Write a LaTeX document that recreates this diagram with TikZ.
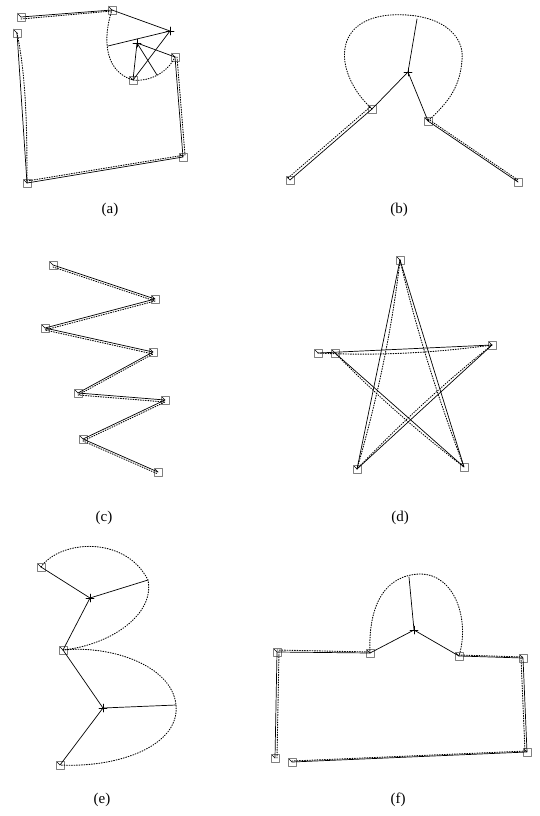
\documentclass[tikz,border=0pt]{standalone}
\usepackage{fontspec}
\setmainfont{Liberation Serif}
\usetikzlibrary{shapes.misc}
\begin{document}
\begin{tikzpicture}[x=1pt, y=-1pt, line join=round, line cap=round, line width=0.5,
    vtx/.style={draw=gray, rectangle, inner sep=0, minimum size=8pt, line width=0.8,
      path picture={\draw[black, line width=0.5] (path picture bounding box.north west) -- (path picture bounding box.center);}},
    ctr/.style={cross out, draw, rotate=45, inner sep=0, minimum size=5pt, line width=0.6},
    ink/.style={line width=0.7},
    trace/.style={dash pattern=on 0.9pt off 1.6pt, line width=0.9},
    lbl/.style={font=\fontsize{15}{17}\selectfont}]
  \useasboundingbox (0,0) rectangle (539,816);
  % (a)
  \node[vtx] (a1) at (21,17) {};
  \node[vtx] (a2) at (17,33) {};
  \node[vtx] (a3) at (112,10) {};
  \node[ctr] (a4) at (170,31) {};
  \node[vtx] (a5) at (175,57) {};
  \node[vtx] (a6) at (183,157) {};
  \node[vtx] (a7) at (27,183) {};
  \node[vtx] (a8) at (133,80) {};
  \node[ctr] (a9) at (137,43) {};
  \coordinate (a10) at (108,46);
  \coordinate (a11) at (157,75);
  \draw[ink] (a1.center) -- (a3.center) -- (a4.center) -- (a10);
  \draw[ink] (a2.center) -- (a7.center) -- (a6.center) -- (a5.center);
  \draw[ink] (a8.center) -- (a4.center);
  \draw[ink] (a9.center) -- (a8.center) (a9.center) -- (a5.center) (a9.center) -- (a11);
  \draw[trace] ([yshift=-2pt]a1.center) -- ([yshift=-1pt]a3.center);
  \draw[trace] (a2.center) .. controls (27,80) and (27,140) .. (a7.center);
  \draw[trace] ([yshift=2pt]a7.center) -- ([shift={(2pt,2pt)}]a6.center) -- ([xshift=2pt]a5.center);
  \draw[trace] (a3.center) .. controls (105,30) and (100,70) .. (a8.center) .. controls (150,82) and (168,72) .. (a5.center);
  \node[lbl] (la) at (110,210) {(a)};
  % (b)
  \coordinate (b1) at (417,19);
  \node[ctr] (b2) at (408,72) {};
  \node[vtx] (b3) at (372,109) {};
  \node[vtx] (b4) at (428,121) {};
  \node[vtx] (b5) at (290,180) {};
  \node[vtx] (b6) at (518,182) {};
  \draw[ink] (b1) -- (b2.center) -- (b3.center) -- (b5.center);
  \draw[ink] (b2.center) -- (b4.center) -- (b6.center);
  \draw[trace] (b3.center) .. controls (335,75) and (330,20) .. (390,15) .. controls (440,12) and (465,35) .. (462,60) .. controls (460,90) and (445,105) .. (b4.center);
  \draw[trace] ([shift={(-2pt,2pt)}]b3.center) -- ([shift={(-2pt,2pt)}]b5.center);
  \draw[trace] ([yshift=2pt]b4.center) -- ([yshift=2pt]b6.center);
  \node[lbl] (lb) at (399,210) {(b)};
  % (c)
  \node[vtx] (c1) at (53,265) {};
  \node[vtx] (c2) at (155,299) {};
  \node[vtx] (c3) at (45,328) {};
  \node[vtx] (c4) at (153,352) {};
  \node[vtx] (c5) at (78,393) {};
  \node[vtx] (c6) at (165,400) {};
  \node[vtx] (c7) at (83,439) {};
  \node[vtx] (c8) at (158,472) {};
  \draw[ink] (c1.center) -- (c2.center) -- (c3.center) -- (c4.center) -- (c5.center) -- (c6.center) -- (c7.center) -- (c8.center);
  \draw[trace] ([yshift=-2pt]c1.center) -- ([yshift=-2pt]c2.center) -- ([yshift=-2pt]c3.center) -- ([yshift=-2pt]c4.center)
    -- ([yshift=-2pt]c5.center) -- ([yshift=-2pt]c6.center) -- ([yshift=-2pt]c7.center) -- ([yshift=-2pt]c8.center);
  \node[lbl] (lc) at (104,518) {(c)};
  % (d)
  \node[vtx] (d1) at (400,260) {};
  \node[vtx] (d2) at (318,353) {};
  \node[vtx] (d3) at (335,353) {};
  \node[vtx] (d4) at (492,345) {};
  \node[vtx] (d5) at (357,469) {};
  \node[vtx] (d6) at (464,467) {};
  \draw[ink] (d1.center) -- (d5.center) -- (d4.center) -- (d2.center);
  \draw[ink] (d1.center) -- (d6.center) -- (d3.center);
  \draw[trace] (d1.center) .. controls (392,330) and (377,400) .. (d5.center);
  \draw[trace] (d1.center) .. controls (416,329) and (438,398) .. (d6.center);
  \draw[trace] (d2.center) .. controls (376,356) and (434,353) .. (d4.center);
  \draw[trace] (d3.center) .. controls (375,394) and (418,432) .. (d6.center);
  \draw[trace] (d5.center) .. controls (399,425) and (444,383) .. (d4.center);
  \node[lbl] (ld) at (400,518) {(d)};
  % (e)
  \node[vtx] (e1) at (41,567) {};
  \node[ctr] (e2) at (90,598) {};
  \coordinate (e3) at (148,580);
  \node[vtx] (e4) at (63,650) {};
  \node[ctr] (e5) at (103,708) {};
  \coordinate (e6) at (176,705);
  \node[vtx] (e7) at (60,765) {};
  \draw[ink] (e1.center) -- (e2.center) -- (e3);
  \draw[ink] (e2.center) -- (e4.center) -- (e5.center) -- (e6);
  \draw[ink] (e5.center) -- (e7.center);
  \draw[trace] (e1.center) .. controls (60,540) and (125,535) .. (e3) .. controls (155,615) and (110,645) .. (e4.center);
  \draw[trace] (e4.center) .. controls (110,645) and (172,665) .. (e6) .. controls (180,745) and (120,768) .. (e7.center);
  \node[lbl] (le) at (102,800) {(e)};
  % (f)
  \node[vtx] (f1) at (277,652) {};
  \node[vtx] (f2) at (370,653) {};
  \node[ctr] (f3) at (414,630) {};
  \coordinate (f4) at (409,577);
  \node[vtx] (f5) at (459,656) {};
  \node[vtx] (f6) at (523,658) {};
  \node[vtx] (f7) at (275,758) {};
  \node[vtx] (f8) at (292,762) {};
  \node[vtx] (f9) at (527,752) {};
  \draw[ink] (f4) -- (f3.center) -- (f2.center) -- (f1.center) -- (f7.center);
  \draw[ink] (f3.center) -- (f5.center) -- (f6.center) -- (f9.center) -- (f8.center);
  \draw[trace] (f2.center) .. controls (368,605) and (385,575) .. (420,574) .. controls (455,574) and (470,620) .. (f5.center);
  \draw[trace] ([yshift=2pt]f1.center) -- ([yshift=1pt]f2.center);
  \draw[trace] ([yshift=1pt]f5.center) -- ([yshift=1pt]f6.center);
  \draw[trace] ([xshift=2pt]f1.center) -- ([xshift=2pt]f7.center);
  \draw[trace] ([xshift=-2pt]f6.center) -- ([xshift=-2pt]f9.center);
  \draw[trace] ([yshift=1pt]f8.center) -- ([yshift=1pt]f9.center);
  \node[lbl] (lf) at (398,800) {(f)};
\end{tikzpicture}
\end{document}
